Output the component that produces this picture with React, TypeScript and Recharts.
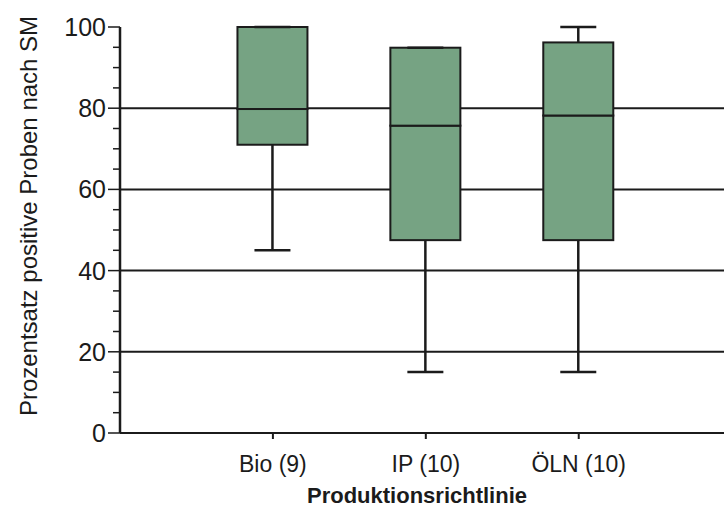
import { Bar, CartesianGrid, ComposedChart, Label, XAxis, YAxis } from "recharts";

const categories = ["Bio (9)", "IP (10)", "ÖLN (10)"];
const positions = [1, 2, 3];
const minValues = [45, 15, 15];
const q1Values = [71, 47.5, 47.5];
const medianValues = [79.8, 75.7, 78.2];
const q3Values = [100, 94.9, 96.2];
const maxValues = [100, 94.9, 100];
const yTicks = [0, 5, 10, 15, 20, 25, 30, 35, 40, 45, 50, 55, 60, 65, 70, 75, 80, 85, 90, 95, 100];
const gridValues = [20, 40, 60, 80];

const FONT = "'Liberation Sans', Arial, sans-serif";
const INK = "#1b1b1b";
const BOX_FILL = "#76a383";

const data = categories.map((name, i) => ({
  name,
  pos: positions[i],
  base: minValues[i],
  lowWhisker: q1Values[i] - minValues[i],
  lowerBox: medianValues[i] - q1Values[i],
  upperBox: q3Values[i] - medianValues[i],
  highWhisker: maxValues[i] - q3Values[i]
}));

const CAP = 18;

function BoxPart(p: any) {
  return <rect x={p.x} y={p.y} width={p.width} height={p.height} fill={BOX_FILL} stroke={INK} strokeWidth={2} />;
}

function LowWhisker(p: any) {
  const cx = p.x + p.width / 2;
  const bottom = p.y + p.height;
  return (
    <g stroke={INK} strokeWidth={2.5}>
      <line x1={cx} x2={cx} y1={p.y} y2={bottom} />
      <line x1={cx - CAP} x2={cx + CAP} y1={bottom} y2={bottom} />
    </g>
  );
}

function HighWhisker(p: any) {
  const cx = p.x + p.width / 2;
  const bottom = p.y + p.height;
  return (
    <g stroke={INK} strokeWidth={2.5}>
      <line x1={cx} x2={cx} y1={p.y} y2={bottom} />
      <line x1={cx - CAP} x2={cx + CAP} y1={p.y} y2={p.y} />
    </g>
  );
}

function YTick({ x, y, payload }: any) {
  const v = payload.value;
  const major = v % 20 === 0;
  return (
    <g>
      <line x1={x - (major ? 12 : 7)} x2={x} y1={y} y2={y} stroke={INK} strokeWidth={1.5} />
      {major && (
        <text x={x - 14} y={y} dy={9} textAnchor="end" fontSize={25} fontFamily={FONT} fill={INK}>
          {v}
        </text>
      )}
    </g>
  );
}

function XTick({ x, payload }: any) {
  const label = categories[positions.indexOf(payload.value)];
  return (
    <text x={x} y={472} textAnchor="middle" fontSize={23} fontFamily={FONT} fill={INK}>
      {label}
    </text>
  );
}

export default function App() {
  return (
    <div style={{ position: "absolute", left: 0, top: 0, background: "#fff" }}>
      <ComposedChart width={724} height={511} data={data} margin={{ top: 27, right: 0, left: 0, bottom: 0 }}>
        <CartesianGrid vertical={false} horizontalValues={gridValues} stroke={INK} strokeWidth={2} />
        <XAxis
          dataKey="pos"
          type="number"
          domain={[0, 3.95]}
          ticks={positions}
          interval={0}
          height={78}
          axisLine={{ stroke: INK, strokeWidth: 2 }}
          tickLine={{ stroke: INK, strokeWidth: 2 }}
          tickSize={6}
          tick={<XTick />}
        >
          <Label
            content={() => (
              <text x={417} y={503} textAnchor="middle" fontSize={22} fontWeight="bold" fontFamily={FONT} fill={INK}>
                Produktionsrichtlinie
              </text>
            )}
          />
        </XAxis>
        <YAxis
          type="number"
          domain={[0, 100]}
          ticks={yTicks}
          interval={0}
          width={120}
          tickSize={0}
          tickMargin={0}
          tickLine={false}
          axisLine={{ stroke: INK, strokeWidth: 2.5 }}
          tick={<YTick />}
        >
          <Label
            content={() => (
              <text
                x={37}
                y={216}
                transform="rotate(-90 37 216)"
                textAnchor="middle"
                fontSize={24}
                fontFamily={FONT}
                fill={INK}
              >
                Prozentsatz positive Proben nach SM
              </text>
            )}
          />
        </YAxis>
        <Bar dataKey="base" stackId="box" barSize={70} fill="none" shape={() => <g />} isAnimationActive={false} />
        <Bar dataKey="lowWhisker" stackId="box" barSize={70} shape={<LowWhisker />} isAnimationActive={false} />
        <Bar dataKey="lowerBox" stackId="box" barSize={70} shape={<BoxPart />} isAnimationActive={false} />
        <Bar dataKey="upperBox" stackId="box" barSize={70} shape={<BoxPart />} isAnimationActive={false} />
        <Bar dataKey="highWhisker" stackId="box" barSize={70} shape={<HighWhisker />} isAnimationActive={false} />
      </ComposedChart>
    </div>
  );
}
